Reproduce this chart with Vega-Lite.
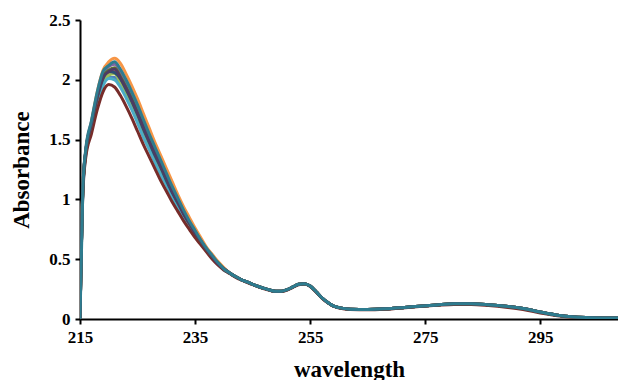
{
  "$schema": "https://vega.github.io/schema/vega-lite/v6.json",
  "width": 538,
  "height": 299,
  "autosize": {"type": "none"},
  "padding": {"left": 80, "top": 20, "right": 0, "bottom": 61},
  "background": "white",
  "config": {"view": {"stroke": null}, "font": "Liberation Serif"},
  "data": {"values": [
    {"s":"S01","x":215,"y":0},{"s":"S01","x":215.5,"y":1.08},{"s":"S01","x":216,"y":1.38},{"s":"S01","x":217,"y":1.59},{"s":"S01","x":218,"y":1.81},{"s":"S01","x":219,"y":1.97},{"s":"S01","x":220,"y":2.02},{"s":"S01","x":221,"y":2.02},{"s":"S01","x":222,"y":1.96},{"s":"S01","x":223,"y":1.87},{"s":"S01","x":224,"y":1.77},{"s":"S01","x":225,"y":1.66},{"s":"S01","x":226,"y":1.54},{"s":"S01","x":227,"y":1.44},{"s":"S01","x":228,"y":1.33},{"s":"S01","x":229,"y":1.23},{"s":"S01","x":230,"y":1.13},{"s":"S01","x":231,"y":1.03},{"s":"S01","x":232,"y":0.94},{"s":"S01","x":233,"y":0.86},{"s":"S01","x":234,"y":0.78},{"s":"S01","x":235,"y":0.7},{"s":"S01","x":236,"y":0.64},{"s":"S01","x":237,"y":0.57},{"s":"S01","x":238,"y":0.51},{"s":"S01","x":239,"y":0.46},{"s":"S01","x":240,"y":0.41},
    {"s":"S01","x":241,"y":0.385},{"s":"S01","x":242,"y":0.355},{"s":"S01","x":243,"y":0.33},{"s":"S01","x":244,"y":0.31},{"s":"S01","x":245,"y":0.29},{"s":"S01","x":246,"y":0.272},{"s":"S01","x":247,"y":0.256},{"s":"S01","x":248,"y":0.242},{"s":"S01","x":249,"y":0.232},{"s":"S01","x":250,"y":0.232},{"s":"S01","x":251,"y":0.245},{"s":"S01","x":252,"y":0.268},{"s":"S01","x":253,"y":0.29},{"s":"S01","x":254,"y":0.295},{"s":"S01","x":255,"y":0.275},{"s":"S01","x":256,"y":0.23},{"s":"S01","x":257,"y":0.18},{"s":"S01","x":258,"y":0.14},{"s":"S01","x":259,"y":0.11},{"s":"S01","x":260,"y":0.095},{"s":"S01","x":262,"y":0.082},{"s":"S01","x":265,"y":0.08},{"s":"S01","x":268,"y":0.085},{"s":"S01","x":271,"y":0.095},{"s":"S01","x":274,"y":0.107},{"s":"S01","x":277,"y":0.118},{"s":"S01","x":280,"y":0.127},{"s":"S01","x":283,"y":0.128},{"s":"S01","x":286,"y":0.12},{"s":"S01","x":289,"y":0.107},{"s":"S01","x":292,"y":0.088},{"s":"S01","x":295,"y":0.058},{"s":"S01","x":298,"y":0.032},{"s":"S01","x":301,"y":0.017},{"s":"S01","x":304,"y":0.011},{"s":"S01","x":308.5,"y":0.008},

    {"s":"S02","x":215,"y":0},{"s":"S02","x":215.5,"y":1.09},{"s":"S02","x":216,"y":1.39},{"s":"S02","x":217,"y":1.62},{"s":"S02","x":218,"y":1.84},{"s":"S02","x":219,"y":2.0},{"s":"S02","x":220,"y":2.06},{"s":"S02","x":221,"y":2.07},{"s":"S02","x":222,"y":2.0},{"s":"S02","x":223,"y":1.91},{"s":"S02","x":224,"y":1.81},{"s":"S02","x":225,"y":1.7},{"s":"S02","x":226,"y":1.59},{"s":"S02","x":227,"y":1.47},{"s":"S02","x":228,"y":1.37},{"s":"S02","x":229,"y":1.26},{"s":"S02","x":230,"y":1.16},{"s":"S02","x":231,"y":1.06},{"s":"S02","x":232,"y":0.97},{"s":"S02","x":233,"y":0.87},{"s":"S02","x":234,"y":0.79},{"s":"S02","x":235,"y":0.72},{"s":"S02","x":236,"y":0.64},{"s":"S02","x":237,"y":0.58},{"s":"S02","x":238,"y":0.52},{"s":"S02","x":239,"y":0.46},{"s":"S02","x":240,"y":0.42},
    {"s":"S02","x":241,"y":0.385},{"s":"S02","x":242,"y":0.355},{"s":"S02","x":243,"y":0.33},{"s":"S02","x":244,"y":0.31},{"s":"S02","x":245,"y":0.29},{"s":"S02","x":246,"y":0.272},{"s":"S02","x":247,"y":0.256},{"s":"S02","x":248,"y":0.242},{"s":"S02","x":249,"y":0.232},{"s":"S02","x":250,"y":0.232},{"s":"S02","x":251,"y":0.245},{"s":"S02","x":252,"y":0.268},{"s":"S02","x":253,"y":0.29},{"s":"S02","x":254,"y":0.295},{"s":"S02","x":255,"y":0.275},{"s":"S02","x":256,"y":0.23},{"s":"S02","x":257,"y":0.18},{"s":"S02","x":258,"y":0.14},{"s":"S02","x":259,"y":0.11},{"s":"S02","x":260,"y":0.095},{"s":"S02","x":262,"y":0.082},{"s":"S02","x":265,"y":0.08},{"s":"S02","x":268,"y":0.085},{"s":"S02","x":271,"y":0.095},{"s":"S02","x":274,"y":0.107},{"s":"S02","x":277,"y":0.118},{"s":"S02","x":280,"y":0.127},{"s":"S02","x":283,"y":0.128},{"s":"S02","x":286,"y":0.12},{"s":"S02","x":289,"y":0.107},{"s":"S02","x":292,"y":0.088},{"s":"S02","x":295,"y":0.058},{"s":"S02","x":298,"y":0.032},{"s":"S02","x":301,"y":0.017},{"s":"S02","x":304,"y":0.011},{"s":"S02","x":308.5,"y":0.008},

    {"s":"S03","x":215,"y":0},{"s":"S03","x":215.5,"y":1.09},{"s":"S03","x":216,"y":1.39},{"s":"S03","x":217,"y":1.61},{"s":"S03","x":218,"y":1.83},{"s":"S03","x":219,"y":1.99},{"s":"S03","x":220,"y":2.04},{"s":"S03","x":221,"y":2.05},{"s":"S03","x":222,"y":1.98},{"s":"S03","x":223,"y":1.89},{"s":"S03","x":224,"y":1.79},{"s":"S03","x":225,"y":1.68},{"s":"S03","x":226,"y":1.57},{"s":"S03","x":227,"y":1.46},{"s":"S03","x":228,"y":1.35},{"s":"S03","x":229,"y":1.25},{"s":"S03","x":230,"y":1.15},{"s":"S03","x":231,"y":1.05},{"s":"S03","x":232,"y":0.96},{"s":"S03","x":233,"y":0.87},{"s":"S03","x":234,"y":0.79},{"s":"S03","x":235,"y":0.71},{"s":"S03","x":236,"y":0.64},{"s":"S03","x":237,"y":0.58},{"s":"S03","x":238,"y":0.52},{"s":"S03","x":239,"y":0.46},{"s":"S03","x":240,"y":0.42},
    {"s":"S03","x":241,"y":0.385},{"s":"S03","x":242,"y":0.355},{"s":"S03","x":243,"y":0.33},{"s":"S03","x":244,"y":0.31},{"s":"S03","x":245,"y":0.29},{"s":"S03","x":246,"y":0.272},{"s":"S03","x":247,"y":0.256},{"s":"S03","x":248,"y":0.242},{"s":"S03","x":249,"y":0.232},{"s":"S03","x":250,"y":0.232},{"s":"S03","x":251,"y":0.245},{"s":"S03","x":252,"y":0.268},{"s":"S03","x":253,"y":0.29},{"s":"S03","x":254,"y":0.295},{"s":"S03","x":255,"y":0.275},{"s":"S03","x":256,"y":0.23},{"s":"S03","x":257,"y":0.18},{"s":"S03","x":258,"y":0.14},{"s":"S03","x":259,"y":0.11},{"s":"S03","x":260,"y":0.095},{"s":"S03","x":262,"y":0.082},{"s":"S03","x":265,"y":0.08},{"s":"S03","x":268,"y":0.085},{"s":"S03","x":271,"y":0.095},{"s":"S03","x":274,"y":0.107},{"s":"S03","x":277,"y":0.118},{"s":"S03","x":280,"y":0.127},{"s":"S03","x":283,"y":0.128},{"s":"S03","x":286,"y":0.12},{"s":"S03","x":289,"y":0.107},{"s":"S03","x":292,"y":0.088},{"s":"S03","x":295,"y":0.058},{"s":"S03","x":298,"y":0.032},{"s":"S03","x":301,"y":0.017},{"s":"S03","x":304,"y":0.011},{"s":"S03","x":308.5,"y":0.008},

    {"s":"S04","x":215,"y":0},{"s":"S04","x":215.5,"y":1.1},{"s":"S04","x":216,"y":1.41},{"s":"S04","x":217,"y":1.65},{"s":"S04","x":218,"y":1.88},{"s":"S04","x":219,"y":2.05},{"s":"S04","x":220,"y":2.11},{"s":"S04","x":221,"y":2.13},{"s":"S04","x":222,"y":2.07},{"s":"S04","x":223,"y":1.98},{"s":"S04","x":224,"y":1.88},{"s":"S04","x":225,"y":1.77},{"s":"S04","x":226,"y":1.65},{"s":"S04","x":227,"y":1.53},{"s":"S04","x":228,"y":1.42},{"s":"S04","x":229,"y":1.31},{"s":"S04","x":230,"y":1.2},{"s":"S04","x":231,"y":1.09},{"s":"S04","x":232,"y":0.99},{"s":"S04","x":233,"y":0.9},{"s":"S04","x":234,"y":0.81},{"s":"S04","x":235,"y":0.73},{"s":"S04","x":236,"y":0.66},{"s":"S04","x":237,"y":0.59},{"s":"S04","x":238,"y":0.53},{"s":"S04","x":239,"y":0.47},{"s":"S04","x":240,"y":0.42},
    {"s":"S04","x":241,"y":0.385},{"s":"S04","x":242,"y":0.355},{"s":"S04","x":243,"y":0.33},{"s":"S04","x":244,"y":0.31},{"s":"S04","x":245,"y":0.29},{"s":"S04","x":246,"y":0.272},{"s":"S04","x":247,"y":0.256},{"s":"S04","x":248,"y":0.242},{"s":"S04","x":249,"y":0.232},{"s":"S04","x":250,"y":0.232},{"s":"S04","x":251,"y":0.245},{"s":"S04","x":252,"y":0.268},{"s":"S04","x":253,"y":0.29},{"s":"S04","x":254,"y":0.295},{"s":"S04","x":255,"y":0.275},{"s":"S04","x":256,"y":0.23},{"s":"S04","x":257,"y":0.18},{"s":"S04","x":258,"y":0.14},{"s":"S04","x":259,"y":0.11},{"s":"S04","x":260,"y":0.095},{"s":"S04","x":262,"y":0.082},{"s":"S04","x":265,"y":0.08},{"s":"S04","x":268,"y":0.085},{"s":"S04","x":271,"y":0.095},{"s":"S04","x":274,"y":0.107},{"s":"S04","x":277,"y":0.118},{"s":"S04","x":280,"y":0.127},{"s":"S04","x":283,"y":0.128},{"s":"S04","x":286,"y":0.12},{"s":"S04","x":289,"y":0.107},{"s":"S04","x":292,"y":0.088},{"s":"S04","x":295,"y":0.058},{"s":"S04","x":298,"y":0.032},{"s":"S04","x":301,"y":0.017},{"s":"S04","x":304,"y":0.011},{"s":"S04","x":308.5,"y":0.008},

    {"s":"S05","x":215,"y":0},{"s":"S05","x":215.5,"y":1.07},{"s":"S05","x":216,"y":1.37},{"s":"S05","x":217,"y":1.58},{"s":"S05","x":218,"y":1.8},{"s":"S05","x":219,"y":1.95},{"s":"S05","x":220,"y":2.01},{"s":"S05","x":221,"y":2.0},{"s":"S05","x":222,"y":1.94},{"s":"S05","x":223,"y":1.85},{"s":"S05","x":224,"y":1.75},{"s":"S05","x":225,"y":1.64},{"s":"S05","x":226,"y":1.52},{"s":"S05","x":227,"y":1.42},{"s":"S05","x":228,"y":1.31},{"s":"S05","x":229,"y":1.21},{"s":"S05","x":230,"y":1.12},{"s":"S05","x":231,"y":1.02},{"s":"S05","x":232,"y":0.93},{"s":"S05","x":233,"y":0.85},{"s":"S05","x":234,"y":0.77},{"s":"S05","x":235,"y":0.7},{"s":"S05","x":236,"y":0.63},{"s":"S05","x":237,"y":0.57},{"s":"S05","x":238,"y":0.51},{"s":"S05","x":239,"y":0.46},{"s":"S05","x":240,"y":0.41},
    {"s":"S05","x":241,"y":0.385},{"s":"S05","x":242,"y":0.355},{"s":"S05","x":243,"y":0.33},{"s":"S05","x":244,"y":0.31},{"s":"S05","x":245,"y":0.29},{"s":"S05","x":246,"y":0.272},{"s":"S05","x":247,"y":0.256},{"s":"S05","x":248,"y":0.242},{"s":"S05","x":249,"y":0.232},{"s":"S05","x":250,"y":0.232},{"s":"S05","x":251,"y":0.245},{"s":"S05","x":252,"y":0.268},{"s":"S05","x":253,"y":0.29},{"s":"S05","x":254,"y":0.295},{"s":"S05","x":255,"y":0.275},{"s":"S05","x":256,"y":0.23},{"s":"S05","x":257,"y":0.18},{"s":"S05","x":258,"y":0.14},{"s":"S05","x":259,"y":0.11},{"s":"S05","x":260,"y":0.095},{"s":"S05","x":262,"y":0.082},{"s":"S05","x":265,"y":0.08},{"s":"S05","x":268,"y":0.085},{"s":"S05","x":271,"y":0.095},{"s":"S05","x":274,"y":0.107},{"s":"S05","x":277,"y":0.118},{"s":"S05","x":280,"y":0.127},{"s":"S05","x":283,"y":0.128},{"s":"S05","x":286,"y":0.12},{"s":"S05","x":289,"y":0.107},{"s":"S05","x":292,"y":0.088},{"s":"S05","x":295,"y":0.058},{"s":"S05","x":298,"y":0.032},{"s":"S05","x":301,"y":0.017},{"s":"S05","x":304,"y":0.011},{"s":"S05","x":308.5,"y":0.008},

    {"s":"S06","x":215,"y":0},{"s":"S06","x":215.5,"y":1.1},{"s":"S06","x":216,"y":1.4},{"s":"S06","x":217,"y":1.65},{"s":"S06","x":218,"y":1.9},{"s":"S06","x":219,"y":2.08},{"s":"S06","x":220,"y":2.15},{"s":"S06","x":221,"y":2.18},{"s":"S06","x":222,"y":2.14},{"s":"S06","x":223,"y":2.05},{"s":"S06","x":224,"y":1.95},{"s":"S06","x":225,"y":1.84},{"s":"S06","x":226,"y":1.72},{"s":"S06","x":227,"y":1.6},{"s":"S06","x":228,"y":1.48},{"s":"S06","x":229,"y":1.37},{"s":"S06","x":230,"y":1.26},{"s":"S06","x":231,"y":1.15},{"s":"S06","x":232,"y":1.04},{"s":"S06","x":233,"y":0.94},{"s":"S06","x":234,"y":0.85},{"s":"S06","x":235,"y":0.76},{"s":"S06","x":236,"y":0.68},{"s":"S06","x":237,"y":0.6},{"s":"S06","x":238,"y":0.54},{"s":"S06","x":239,"y":0.48},{"s":"S06","x":240,"y":0.43},
    {"s":"S06","x":241,"y":0.385},{"s":"S06","x":242,"y":0.355},{"s":"S06","x":243,"y":0.33},{"s":"S06","x":244,"y":0.31},{"s":"S06","x":245,"y":0.29},{"s":"S06","x":246,"y":0.272},{"s":"S06","x":247,"y":0.256},{"s":"S06","x":248,"y":0.242},{"s":"S06","x":249,"y":0.232},{"s":"S06","x":250,"y":0.232},{"s":"S06","x":251,"y":0.245},{"s":"S06","x":252,"y":0.268},{"s":"S06","x":253,"y":0.29},{"s":"S06","x":254,"y":0.295},{"s":"S06","x":255,"y":0.275},{"s":"S06","x":256,"y":0.23},{"s":"S06","x":257,"y":0.18},{"s":"S06","x":258,"y":0.14},{"s":"S06","x":259,"y":0.11},{"s":"S06","x":260,"y":0.095},{"s":"S06","x":262,"y":0.082},{"s":"S06","x":265,"y":0.08},{"s":"S06","x":268,"y":0.085},{"s":"S06","x":271,"y":0.095},{"s":"S06","x":274,"y":0.107},{"s":"S06","x":277,"y":0.118},{"s":"S06","x":280,"y":0.127},{"s":"S06","x":283,"y":0.128},{"s":"S06","x":286,"y":0.12},{"s":"S06","x":289,"y":0.107},{"s":"S06","x":292,"y":0.088},{"s":"S06","x":295,"y":0.058},{"s":"S06","x":298,"y":0.032},{"s":"S06","x":301,"y":0.017},{"s":"S06","x":304,"y":0.011},{"s":"S06","x":308.5,"y":0.008},

    {"s":"S07","x":215,"y":0},{"s":"S07","x":215.5,"y":1.09},{"s":"S07","x":216,"y":1.4},{"s":"S07","x":217,"y":1.63},{"s":"S07","x":218,"y":1.85},{"s":"S07","x":219,"y":2.01},{"s":"S07","x":220,"y":2.07},{"s":"S07","x":221,"y":2.06},{"s":"S07","x":222,"y":2.01},{"s":"S07","x":223,"y":1.92},{"s":"S07","x":224,"y":1.82},{"s":"S07","x":225,"y":1.71},{"s":"S07","x":226,"y":1.59},{"s":"S07","x":227,"y":1.48},{"s":"S07","x":228,"y":1.37},{"s":"S07","x":229,"y":1.27},{"s":"S07","x":230,"y":1.16},{"s":"S07","x":231,"y":1.06},{"s":"S07","x":232,"y":0.97},{"s":"S07","x":233,"y":0.88},{"s":"S07","x":234,"y":0.8},{"s":"S07","x":235,"y":0.72},{"s":"S07","x":236,"y":0.65},{"s":"S07","x":237,"y":0.58},{"s":"S07","x":238,"y":0.52},{"s":"S07","x":239,"y":0.46},{"s":"S07","x":240,"y":0.42},
    {"s":"S07","x":241,"y":0.385},{"s":"S07","x":242,"y":0.355},{"s":"S07","x":243,"y":0.33},{"s":"S07","x":244,"y":0.31},{"s":"S07","x":245,"y":0.29},{"s":"S07","x":246,"y":0.272},{"s":"S07","x":247,"y":0.256},{"s":"S07","x":248,"y":0.242},{"s":"S07","x":249,"y":0.232},{"s":"S07","x":250,"y":0.232},{"s":"S07","x":251,"y":0.245},{"s":"S07","x":252,"y":0.268},{"s":"S07","x":253,"y":0.29},{"s":"S07","x":254,"y":0.295},{"s":"S07","x":255,"y":0.275},{"s":"S07","x":256,"y":0.23},{"s":"S07","x":257,"y":0.18},{"s":"S07","x":258,"y":0.14},{"s":"S07","x":259,"y":0.11},{"s":"S07","x":260,"y":0.095},{"s":"S07","x":262,"y":0.082},{"s":"S07","x":265,"y":0.08},{"s":"S07","x":268,"y":0.085},{"s":"S07","x":271,"y":0.095},{"s":"S07","x":274,"y":0.107},{"s":"S07","x":277,"y":0.118},{"s":"S07","x":280,"y":0.127},{"s":"S07","x":283,"y":0.128},{"s":"S07","x":286,"y":0.12},{"s":"S07","x":289,"y":0.107},{"s":"S07","x":292,"y":0.088},{"s":"S07","x":295,"y":0.058},{"s":"S07","x":298,"y":0.032},{"s":"S07","x":301,"y":0.017},{"s":"S07","x":304,"y":0.011},{"s":"S07","x":308.5,"y":0.008},

    {"s":"S08","x":215,"y":0},{"s":"S08","x":215.5,"y":1.05},{"s":"S08","x":216,"y":1.35},{"s":"S08","x":217,"y":1.55},{"s":"S08","x":218,"y":1.75},{"s":"S08","x":219,"y":1.9},{"s":"S08","x":220,"y":1.96},{"s":"S08","x":221,"y":1.94},{"s":"S08","x":222,"y":1.87},{"s":"S08","x":223,"y":1.78},{"s":"S08","x":224,"y":1.68},{"s":"S08","x":225,"y":1.57},{"s":"S08","x":226,"y":1.46},{"s":"S08","x":227,"y":1.36},{"s":"S08","x":228,"y":1.26},{"s":"S08","x":229,"y":1.16},{"s":"S08","x":230,"y":1.07},{"s":"S08","x":231,"y":0.98},{"s":"S08","x":232,"y":0.9},{"s":"S08","x":233,"y":0.82},{"s":"S08","x":234,"y":0.75},{"s":"S08","x":235,"y":0.68},{"s":"S08","x":236,"y":0.62},{"s":"S08","x":237,"y":0.56},{"s":"S08","x":238,"y":0.5},{"s":"S08","x":239,"y":0.45},{"s":"S08","x":240,"y":0.41},
    {"s":"S08","x":241,"y":0.38},{"s":"S08","x":242,"y":0.35},{"s":"S08","x":243,"y":0.326},{"s":"S08","x":244,"y":0.306},{"s":"S08","x":245,"y":0.287},{"s":"S08","x":246,"y":0.269},{"s":"S08","x":247,"y":0.253},{"s":"S08","x":248,"y":0.239},{"s":"S08","x":249,"y":0.229},{"s":"S08","x":250,"y":0.229},{"s":"S08","x":251,"y":0.242},{"s":"S08","x":252,"y":0.265},{"s":"S08","x":253,"y":0.287},{"s":"S08","x":254,"y":0.292},{"s":"S08","x":255,"y":0.272},{"s":"S08","x":256,"y":0.227},{"s":"S08","x":257,"y":0.177},{"s":"S08","x":258,"y":0.137},{"s":"S08","x":259,"y":0.107},{"s":"S08","x":260,"y":0.092},{"s":"S08","x":262,"y":0.079},{"s":"S08","x":265,"y":0.077},{"s":"S08","x":268,"y":0.082},{"s":"S08","x":271,"y":0.092},{"s":"S08","x":274,"y":0.104},{"s":"S08","x":277,"y":0.114},{"s":"S08","x":280,"y":0.122},{"s":"S08","x":283,"y":0.122},{"s":"S08","x":286,"y":0.113},{"s":"S08","x":289,"y":0.099},{"s":"S08","x":292,"y":0.079},{"s":"S08","x":295,"y":0.05},{"s":"S08","x":298,"y":0.027},{"s":"S08","x":301,"y":0.013},{"s":"S08","x":304,"y":0.008},{"s":"S08","x":308.5,"y":0.005},

    {"s":"S09","x":215,"y":0},{"s":"S09","x":215.5,"y":1.1},{"s":"S09","x":216,"y":1.4},{"s":"S09","x":217,"y":1.63},{"s":"S09","x":218,"y":1.86},{"s":"S09","x":219,"y":2.03},{"s":"S09","x":220,"y":2.08},{"s":"S09","x":221,"y":2.1},{"s":"S09","x":222,"y":2.03},{"s":"S09","x":223,"y":1.94},{"s":"S09","x":224,"y":1.84},{"s":"S09","x":225,"y":1.73},{"s":"S09","x":226,"y":1.62},{"s":"S09","x":227,"y":1.5},{"s":"S09","x":228,"y":1.4},{"s":"S09","x":229,"y":1.29},{"s":"S09","x":230,"y":1.18},{"s":"S09","x":231,"y":1.08},{"s":"S09","x":232,"y":0.98},{"s":"S09","x":233,"y":0.89},{"s":"S09","x":234,"y":0.8},{"s":"S09","x":235,"y":0.73},{"s":"S09","x":236,"y":0.65},{"s":"S09","x":237,"y":0.58},{"s":"S09","x":238,"y":0.52},{"s":"S09","x":239,"y":0.47},{"s":"S09","x":240,"y":0.42},
    {"s":"S09","x":241,"y":0.385},{"s":"S09","x":242,"y":0.355},{"s":"S09","x":243,"y":0.33},{"s":"S09","x":244,"y":0.31},{"s":"S09","x":245,"y":0.29},{"s":"S09","x":246,"y":0.272},{"s":"S09","x":247,"y":0.256},{"s":"S09","x":248,"y":0.242},{"s":"S09","x":249,"y":0.232},{"s":"S09","x":250,"y":0.232},{"s":"S09","x":251,"y":0.245},{"s":"S09","x":252,"y":0.268},{"s":"S09","x":253,"y":0.29},{"s":"S09","x":254,"y":0.295},{"s":"S09","x":255,"y":0.275},{"s":"S09","x":256,"y":0.23},{"s":"S09","x":257,"y":0.18},{"s":"S09","x":258,"y":0.14},{"s":"S09","x":259,"y":0.11},{"s":"S09","x":260,"y":0.095},{"s":"S09","x":262,"y":0.082},{"s":"S09","x":265,"y":0.08},{"s":"S09","x":268,"y":0.085},{"s":"S09","x":271,"y":0.095},{"s":"S09","x":274,"y":0.107},{"s":"S09","x":277,"y":0.118},{"s":"S09","x":280,"y":0.127},{"s":"S09","x":283,"y":0.128},{"s":"S09","x":286,"y":0.12},{"s":"S09","x":289,"y":0.107},{"s":"S09","x":292,"y":0.088},{"s":"S09","x":295,"y":0.058},{"s":"S09","x":298,"y":0.032},{"s":"S09","x":301,"y":0.017},{"s":"S09","x":304,"y":0.011},{"s":"S09","x":308.5,"y":0.008},

    {"s":"S10","x":215,"y":0},{"s":"S10","x":215.5,"y":1.1},{"s":"S10","x":216,"y":1.4},{"s":"S10","x":217,"y":1.63},{"s":"S10","x":218,"y":1.86},{"s":"S10","x":219,"y":2.02},{"s":"S10","x":220,"y":2.07},{"s":"S10","x":221,"y":2.09},{"s":"S10","x":222,"y":2.02},{"s":"S10","x":223,"y":1.93},{"s":"S10","x":224,"y":1.83},{"s":"S10","x":225,"y":1.72},{"s":"S10","x":226,"y":1.61},{"s":"S10","x":227,"y":1.49},{"s":"S10","x":228,"y":1.39},{"s":"S10","x":229,"y":1.28},{"s":"S10","x":230,"y":1.18},{"s":"S10","x":231,"y":1.07},{"s":"S10","x":232,"y":0.98},{"s":"S10","x":233,"y":0.88},{"s":"S10","x":234,"y":0.8},{"s":"S10","x":235,"y":0.72},{"s":"S10","x":236,"y":0.65},{"s":"S10","x":237,"y":0.58},{"s":"S10","x":238,"y":0.52},{"s":"S10","x":239,"y":0.46},{"s":"S10","x":240,"y":0.42},
    {"s":"S10","x":241,"y":0.385},{"s":"S10","x":242,"y":0.355},{"s":"S10","x":243,"y":0.33},{"s":"S10","x":244,"y":0.31},{"s":"S10","x":245,"y":0.29},{"s":"S10","x":246,"y":0.272},{"s":"S10","x":247,"y":0.256},{"s":"S10","x":248,"y":0.242},{"s":"S10","x":249,"y":0.232},{"s":"S10","x":250,"y":0.232},{"s":"S10","x":251,"y":0.245},{"s":"S10","x":252,"y":0.268},{"s":"S10","x":253,"y":0.29},{"s":"S10","x":254,"y":0.295},{"s":"S10","x":255,"y":0.275},{"s":"S10","x":256,"y":0.23},{"s":"S10","x":257,"y":0.18},{"s":"S10","x":258,"y":0.14},{"s":"S10","x":259,"y":0.11},{"s":"S10","x":260,"y":0.095},{"s":"S10","x":262,"y":0.082},{"s":"S10","x":265,"y":0.08},{"s":"S10","x":268,"y":0.085},{"s":"S10","x":271,"y":0.095},{"s":"S10","x":274,"y":0.107},{"s":"S10","x":277,"y":0.118},{"s":"S10","x":280,"y":0.127},{"s":"S10","x":283,"y":0.128},{"s":"S10","x":286,"y":0.12},{"s":"S10","x":289,"y":0.107},{"s":"S10","x":292,"y":0.088},{"s":"S10","x":295,"y":0.058},{"s":"S10","x":298,"y":0.032},{"s":"S10","x":301,"y":0.017},{"s":"S10","x":304,"y":0.011},{"s":"S10","x":308.5,"y":0.008},

    {"s":"S11","x":215,"y":0},{"s":"S11","x":215.5,"y":1.1},{"s":"S11","x":216,"y":1.42},{"s":"S11","x":217,"y":1.66},{"s":"S11","x":218,"y":1.9},{"s":"S11","x":219,"y":2.07},{"s":"S11","x":220,"y":2.12},{"s":"S11","x":221,"y":2.15},{"s":"S11","x":222,"y":2.09},{"s":"S11","x":223,"y":2.0},{"s":"S11","x":224,"y":1.9},{"s":"S11","x":225,"y":1.79},{"s":"S11","x":226,"y":1.67},{"s":"S11","x":227,"y":1.55},{"s":"S11","x":228,"y":1.44},{"s":"S11","x":229,"y":1.33},{"s":"S11","x":230,"y":1.22},{"s":"S11","x":231,"y":1.11},{"s":"S11","x":232,"y":1.01},{"s":"S11","x":233,"y":0.91},{"s":"S11","x":234,"y":0.82},{"s":"S11","x":235,"y":0.74},{"s":"S11","x":236,"y":0.66},{"s":"S11","x":237,"y":0.59},{"s":"S11","x":238,"y":0.53},{"s":"S11","x":239,"y":0.47},{"s":"S11","x":240,"y":0.42},
    {"s":"S11","x":241,"y":0.385},{"s":"S11","x":242,"y":0.355},{"s":"S11","x":243,"y":0.33},{"s":"S11","x":244,"y":0.31},{"s":"S11","x":245,"y":0.29},{"s":"S11","x":246,"y":0.272},{"s":"S11","x":247,"y":0.256},{"s":"S11","x":248,"y":0.242},{"s":"S11","x":249,"y":0.232},{"s":"S11","x":250,"y":0.232},{"s":"S11","x":251,"y":0.245},{"s":"S11","x":252,"y":0.268},{"s":"S11","x":253,"y":0.29},{"s":"S11","x":254,"y":0.295},{"s":"S11","x":255,"y":0.275},{"s":"S11","x":256,"y":0.23},{"s":"S11","x":257,"y":0.18},{"s":"S11","x":258,"y":0.14},{"s":"S11","x":259,"y":0.11},{"s":"S11","x":260,"y":0.095},{"s":"S11","x":262,"y":0.082},{"s":"S11","x":265,"y":0.08},{"s":"S11","x":268,"y":0.085},{"s":"S11","x":271,"y":0.095},{"s":"S11","x":274,"y":0.107},{"s":"S11","x":277,"y":0.118},{"s":"S11","x":280,"y":0.127},{"s":"S11","x":283,"y":0.128},{"s":"S11","x":286,"y":0.12},{"s":"S11","x":289,"y":0.107},{"s":"S11","x":292,"y":0.088},{"s":"S11","x":295,"y":0.058},{"s":"S11","x":298,"y":0.032},{"s":"S11","x":301,"y":0.017},{"s":"S11","x":304,"y":0.011},{"s":"S11","x":308.5,"y":0.008}
  ]},
  "mark": {"type": "line", "interpolate": "monotone", "strokeWidth": 3, "clip": true},
  "encoding": {
    "x": {"field": "x", "type": "quantitative",
      "scale": {"domain": [215, 308.5], "nice": false, "zero": false},
      "axis": {"values": [215, 235, 255, 275, 295], "title": "wavelength", "grid": false, "labelFlush": false,
        "domainColor": "black", "domainWidth": 2, "tickColor": "black", "tickWidth": 2, "tickSize": 5,
        "labelFont": "Liberation Serif", "labelFontWeight": "bold", "labelFontSize": 17, "labelColor": "black", "labelPadding": 5,
        "titleFont": "Liberation Serif", "titleFontWeight": "bold", "titleFontSize": 23, "titleColor": "black", "titlePadding": 13}},
    "y": {"field": "y", "type": "quantitative",
      "scale": {"domain": [0, 2.5], "nice": false},
      "axis": {"values": [0, 0.5, 1, 1.5, 2, 2.5], "format": ".1~f", "title": "Absorbance", "grid": false, "labelFlush": false,
        "domainColor": "black", "domainWidth": 2, "tickColor": "black", "tickWidth": 2, "tickSize": 5,
        "labelFont": "Liberation Serif", "labelFontWeight": "bold", "labelFontSize": 17, "labelColor": "black", "labelPadding": 5,
        "titleFont": "Liberation Serif", "titleFontWeight": "bold", "titleFontSize": 23, "titleColor": "black", "titlePadding": 15}},
    "color": {"field": "s", "type": "nominal", "legend": null,
      "scale": {"domain": ["S01","S02","S03","S04","S05","S06","S07","S08","S09","S10","S11"],
        "range": ["#4F81BD","#C0504D","#9BBB59","#8064A2","#4BACC6","#F79646","#2C4D75","#772C2A","#5F7530","#4D3B62","#2E7C8F"]}}
  }
}
